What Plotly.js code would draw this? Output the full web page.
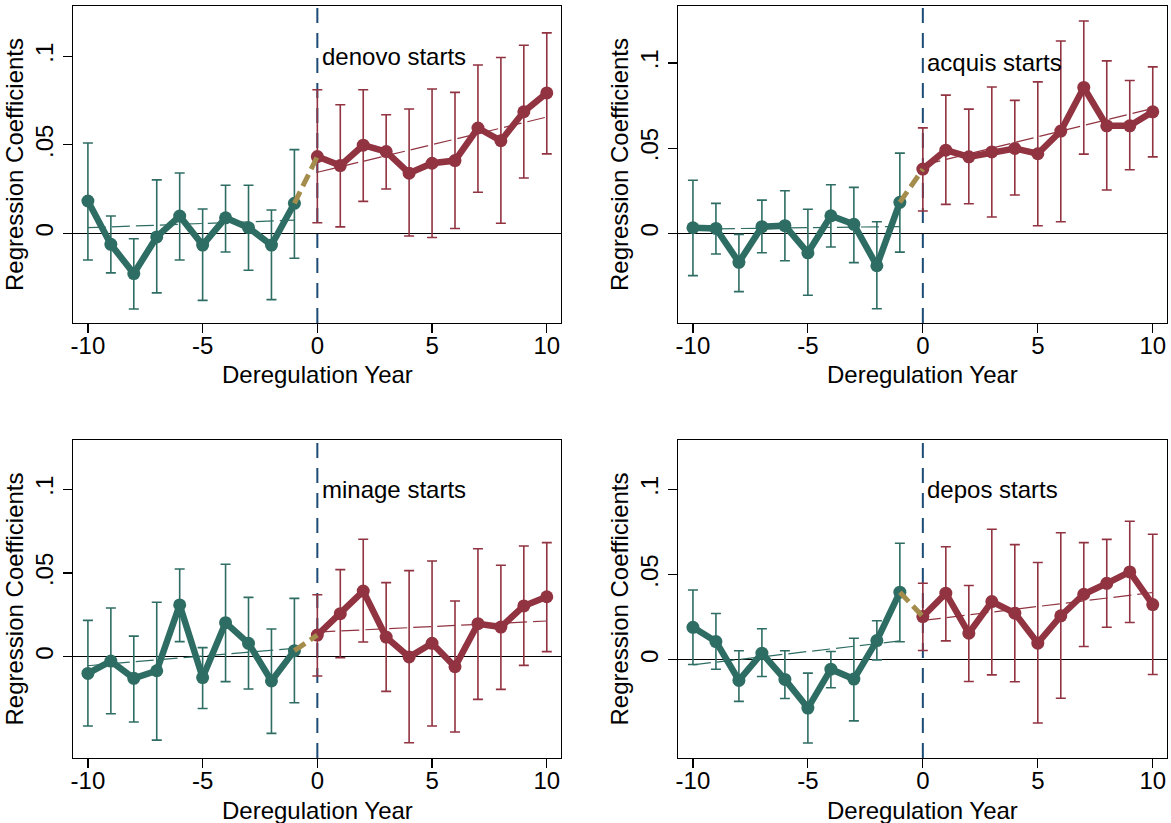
<!DOCTYPE html>
<html>
<head>
<meta charset="utf-8">
<script src="https://cdn.plot.ly/plotly-3.0.1.min.js"></script>
<style>
  html, body { margin: 0; padding: 0; background: #ffffff; }
  #chart { width: 1171px; height: 823px; }
</style>
</head>
<body>
<div id="chart"></div>
<script>
// Event-study coefficients around branching deregulation, with 95% CIs
const yearsPre  = [-10, -9, -8, -7, -6, -5, -4, -3, -2, -1];
const yearsPost = [0, 1, 2, 3, 4, 5, 6, 7, 8, 9, 10];
const trendPreX  = [-10, -1];
const trendPostX = [0, 10];

// denovo
const denovoPreCoef  = [0.0183, -0.0062, -0.0227, -0.0020, 0.0098, -0.0066, 0.0088, 0.0032, -0.0066, 0.0170];
const denovoPreLo    = [-0.0150, -0.0223, -0.0427, -0.0336, -0.0150, -0.0378, -0.0105, -0.0208, -0.0374, -0.0140];
const denovoPreHi    = [0.0510, 0.0098, -0.0030, 0.0302, 0.0341, 0.0138, 0.0272, 0.0272, 0.0132, 0.0473];
const denovoPostCoef = [0.0434, 0.0383, 0.0498, 0.0462, 0.0340, 0.0396, 0.0411, 0.0595, 0.0523, 0.0687, 0.0793];
const denovoPostLo   = [0.0060, 0.0037, 0.0181, 0.0251, -0.0015, -0.0023, 0.0028, 0.0232, 0.0057, 0.0313, 0.0449];
const denovoPostHi   = [0.0811, 0.0726, 0.0811, 0.0670, 0.0702, 0.0815, 0.0796, 0.0951, 0.0993, 0.1062, 0.1132];
const denovoTrendPre  = [0.0032, 0.0075];
const denovoTrendPost = [0.0345, 0.0657];

// acquis
const acquisPreCoef  = [0.0033, 0.0029, -0.0170, 0.0039, 0.0045, -0.0114, 0.0103, 0.0053, -0.0190, 0.0182];
const acquisPreLo    = [-0.0248, -0.0121, -0.0342, -0.0114, -0.0161, -0.0363, -0.0080, -0.0172, -0.0442, -0.0110];
const acquisPreHi    = [0.0312, 0.0176, -0.0006, 0.0195, 0.0250, 0.0141, 0.0285, 0.0270, 0.0068, 0.0471];
const acquisPostCoef = [0.0377, 0.0488, 0.0449, 0.0478, 0.0498, 0.0467, 0.0600, 0.0856, 0.0631, 0.0631, 0.0713];
const acquisPostLo   = [0.0131, 0.0170, 0.0174, 0.0096, 0.0225, 0.0045, 0.0068, 0.0465, 0.0254, 0.0373, 0.0449];
const acquisPostHi   = [0.0619, 0.0811, 0.0729, 0.0859, 0.0780, 0.0889, 0.1129, 0.1246, 0.1012, 0.0897, 0.0977];
const acquisTrendPre  = [0.0025, 0.0040];
const acquisTrendPost = [0.0400, 0.0733];

// minage
const minagePreCoef  = [-0.0100, -0.0026, -0.0129, -0.0084, 0.0309, -0.0125, 0.0203, 0.0080, -0.0145, 0.0036];
const minagePreLo    = [-0.0414, -0.0341, -0.0390, -0.0498, 0.0090, -0.0309, -0.0149, -0.0193, -0.0458, -0.0275];
const minagePreHi    = [0.0217, 0.0291, 0.0123, 0.0325, 0.0524, 0.0054, 0.0552, 0.0354, 0.0165, 0.0348];
const minagePostCoef = [0.0129, 0.0257, 0.0392, 0.0117, -0.0002, 0.0080, -0.0060, 0.0197, 0.0177, 0.0303, 0.0358];
const minagePostLo   = [-0.0115, -0.0006, 0.0088, -0.0207, -0.0514, -0.0414, -0.0450, -0.0255, -0.0195, -0.0052, 0.0030];
const minagePostHi   = [0.0370, 0.0520, 0.0701, 0.0442, 0.0514, 0.0571, 0.0333, 0.0645, 0.0546, 0.0661, 0.0681];
const minageTrendPre  = [-0.0054, 0.0050];
const minageTrendPost = [0.0147, 0.0213];

// depos
const deposPreCoef  = [0.0191, 0.0107, -0.0121, 0.0039, -0.0115, -0.0283, -0.0055, -0.0113, 0.0113, 0.0397];
const deposPreLo    = [-0.0027, -0.0055, -0.0244, -0.0098, -0.0227, -0.0488, -0.0164, -0.0358, 0.0000, 0.0106];
const deposPreHi    = [0.0410, 0.0272, 0.0053, 0.0182, 0.0053, -0.0078, 0.0049, 0.0127, 0.0229, 0.0684];
const deposPostCoef = [0.0254, 0.0391, 0.0156, 0.0342, 0.0274, 0.0098, 0.0258, 0.0385, 0.0449, 0.0516, 0.0324];
const deposPostLo   = [0.0055, 0.0111, -0.0127, -0.0088, -0.0129, -0.0371, -0.0225, 0.0078, 0.0191, 0.0219, -0.0086];
const deposPostHi   = [0.0449, 0.0664, 0.0436, 0.0766, 0.0676, 0.0571, 0.0746, 0.0688, 0.0707, 0.0813, 0.0737];
const deposTrendPre  = [-0.0029, 0.0111];
const deposTrendPost = [0.0231, 0.0395];

const panelLabels = ['denovo starts', 'acquis starts', 'minage starts', 'depos starts'];
const xTitle = 'Deregulation Year';
const yTitle = 'Regression Coefficients';
const yTickVals = [0, 0.05, 0.1];
const yTickText = ['0', '.05', '.1'];
const xTickVals = [-10, -5, 0, 5, 10];
const xTickText = ['-10', '-5', '0', '5', '10'];

const TEAL = '#2e6d63';
const MAROON = '#913340';
const OLIVE = '#a38c4c';
const NAVY = '#1d4b77';
const FONT = '"Liberation Sans", Arial, sans-serif';
const FS = 24;

const panels = [
  { pre: [denovoPreCoef, denovoPreLo, denovoPreHi], post: [denovoPostCoef, denovoPostLo, denovoPostHi],
    tPre: denovoTrendPre, tPost: denovoTrendPost, label: panelLabels[0],
    xd: [73 / 1171, 561 / 1171], yd: [1 - 323 / 823, 1 - 6 / 823], yr: [-0.0506, 0.1284] },
  { pre: [acquisPreCoef, acquisPreLo, acquisPreHi], post: [acquisPostCoef, acquisPostLo, acquisPostHi],
    tPre: acquisTrendPre, tPost: acquisTrendPost, label: panelLabels[1],
    xd: [678 / 1171, 1167 / 1171], yd: [1 - 323 / 823, 1 - 6 / 823], yr: [-0.0526, 0.1334] },
  { pre: [minagePreCoef, minagePreLo, minagePreHi], post: [minagePostCoef, minagePostLo, minagePostHi],
    tPre: minageTrendPre, tPost: minageTrendPost, label: panelLabels[2],
    xd: [73 / 1171, 561 / 1171], yd: [1 - 758 / 823, 1 - 440 / 823], yr: [-0.0605, 0.1294] },
  { pre: [deposPreCoef, deposPreLo, deposPreHi], post: [deposPostCoef, deposPostLo, deposPostHi],
    tPre: deposTrendPre, tPost: deposTrendPost, label: panelLabels[3],
    xd: [678 / 1171, 1167 / 1171], yd: [1 - 758 / 823, 1 - 440 / 823], yr: [-0.0576, 0.1290] }
];

function errs(coef, lo, hi, color) {
  return {
    type: 'data', symmetric: false,
    array: coef.map((c, i) => hi[i] - c),
    arrayminus: coef.map((c, i) => c - lo[i]),
    color: color, thickness: 1.6, width: 5
  };
}

const traces = [];
const layout = {
  width: 1171, height: 823,
  margin: { l: 0, r: 0, t: 0, b: 0 },
  paper_bgcolor: '#ffffff', plot_bgcolor: '#ffffff',
  showlegend: false,
  font: { family: FONT, size: FS, color: '#000000' },
  shapes: [], annotations: []
};

panels.forEach((p, k) => {
  const n = k + 1;
  const xa = n === 1 ? 'x' : 'x' + n;
  const ya = n === 1 ? 'y' : 'y' + n;
  const axKeyX = n === 1 ? 'xaxis' : 'xaxis' + n;
  const axKeyY = n === 1 ? 'yaxis' : 'yaxis' + n;

  // fitted trend lines
  traces.push({ x: trendPreX, y: p.tPre, xaxis: xa, yaxis: ya, mode: 'lines',
    line: { color: TEAL, width: 1.2, dash: '18px,6px' }, hoverinfo: 'skip' });
  traces.push({ x: trendPostX, y: p.tPost, xaxis: xa, yaxis: ya, mode: 'lines',
    line: { color: MAROON, width: 1.2, dash: '18px,6px' }, hoverinfo: 'skip' });

  // coefficients before and after deregulation
  traces.push({ x: yearsPre, y: p.pre[0], xaxis: xa, yaxis: ya, mode: 'lines+markers',
    line: { color: TEAL, width: 6.5 }, marker: { color: TEAL, size: 13 },
    error_y: errs(p.pre[0], p.pre[1], p.pre[2], TEAL) });
  traces.push({ x: yearsPost, y: p.post[0], xaxis: xa, yaxis: ya, mode: 'lines+markers',
    line: { color: MAROON, width: 6.5 }, marker: { color: MAROON, size: 13 },
    error_y: errs(p.post[0], p.post[1], p.post[2], MAROON) });

  // bridge from the last pre-period to the first post-period estimate
  traces.push({ x: [yearsPre[yearsPre.length - 1], yearsPost[0]],
    y: [p.pre[0][p.pre[0].length - 1], p.post[0][0]], xaxis: xa, yaxis: ya, mode: 'lines',
    line: { color: OLIVE, width: 5, dash: '13px,6px' }, hoverinfo: 'skip' });

  layout[axKeyX] = {
    domain: p.xd, anchor: ya, range: [-10.65, 10.62],
    tickvals: xTickVals, ticktext: xTickText, ticks: 'outside', ticklen: 9, tickwidth: 1.2,
    ticklabelstandoff: -8,
    tickcolor: '#000', showline: true, mirror: true, linecolor: '#000', linewidth: 1.2,
    showgrid: false, zeroline: false, tickfont: { size: FS, family: FONT, color: '#000' }
  };
  layout[axKeyY] = {
    domain: p.yd, anchor: xa, range: p.yr,
    tickvals: yTickVals, ticktext: yTickText, tickangle: -90, ticks: 'outside', ticklen: 9, tickwidth: 1.2,
    tickcolor: '#000', showline: true, mirror: true, linecolor: '#000', linewidth: 1.2,
    showgrid: false, zeroline: true, zerolinecolor: '#000', zerolinewidth: 1.1,
    tickfont: { size: FS, family: FONT, color: '#000' },
    title: { text: yTitle, font: { size: FS, family: FONT, color: '#000' }, standoff: 0 }
  };

  // deregulation date marker
  layout.shapes.push({ type: 'line', xref: xa, yref: ya + ' domain', x0: 0, x1: 0, y0: 0, y1: 1,
    layer: 'below', line: { color: NAVY, width: 2, dash: '15px,10px' } });

  layout.annotations.push({ text: p.label, xref: xa, yref: ya, x: 0.1, y: 0.1,
    xanchor: 'left', yanchor: 'middle', showarrow: false,
    font: { size: FS, family: FONT, color: '#000' } });

  // x-axis title, placed under the tick labels
  layout.annotations.push({ text: xTitle, xref: xa + ' domain', yref: ya + ' domain', x: 0.5, y: 0,
    xanchor: 'center', yanchor: 'middle', yshift: -52, showarrow: false,
    font: { size: FS, family: FONT, color: '#000' } });
});

Plotly.newPlot('chart', traces, layout, { staticPlot: true, displayModeBar: false });
</script>
</body>
</html>
